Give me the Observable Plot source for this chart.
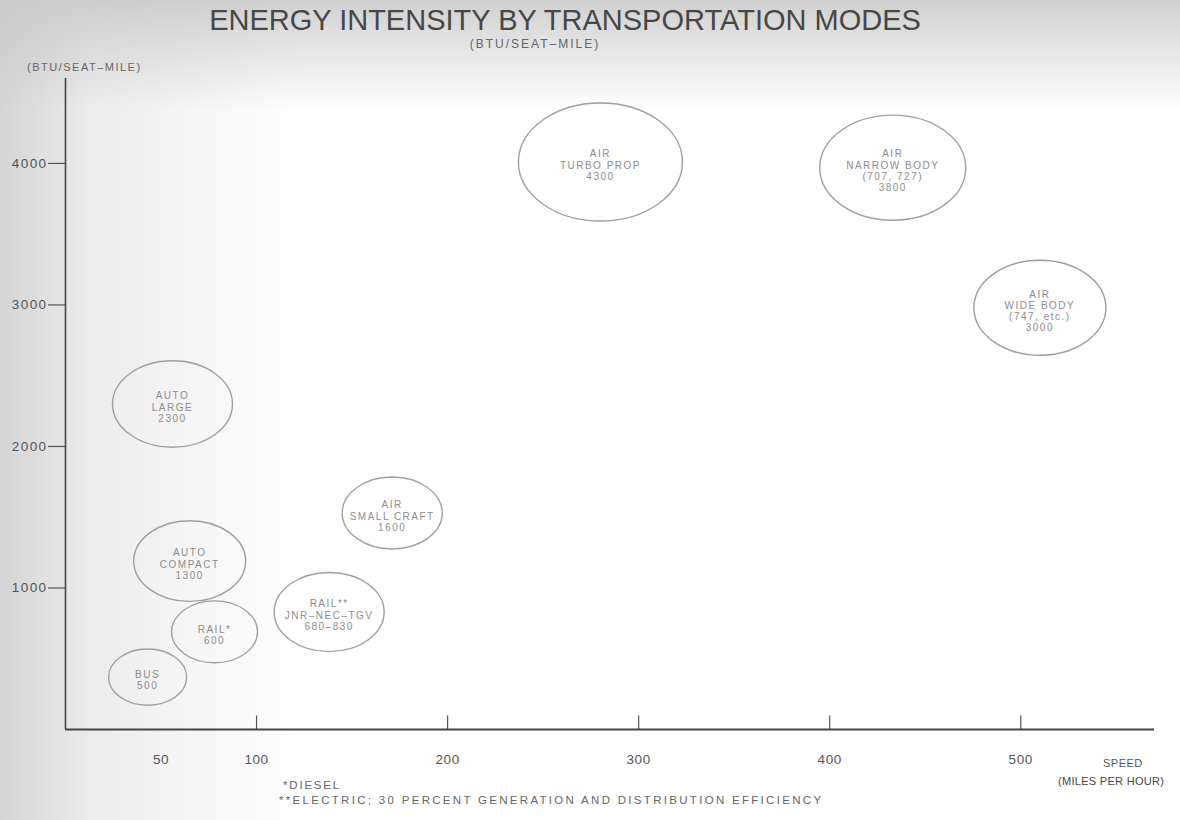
<!DOCTYPE html>
<html>
<head>
<meta charset="utf-8">
<script src="https://cdn.jsdelivr.net/npm/d3@7"></script>
<script src="https://cdn.jsdelivr.net/npm/@observablehq/plot@0.6"></script>
<style>
  html, body { margin: 0; padding: 0; }
  body {
    width: 1180px; height: 820px; overflow: hidden;
    font-family: "Liberation Sans", Arial, sans-serif;
    background:
      linear-gradient(to bottom, rgba(200,200,200,0.85) 0px, rgba(255,255,255,0) 110px),
      linear-gradient(to right, #d4d4d4 0px, #ececec 90px, #ffffff 300px);
  }
  #wrap { position: relative; width: 1180px; height: 820px; }
  .abs { position: absolute; white-space: nowrap; color: #555; }
  #title { left: 0; width: 1130px; top: 4px; text-align: center; font-size: 29px; color: #474747; }
  #subtitle { left: 0; width: 1070px; top: 37px; text-align: center; font-size: 12px; letter-spacing: 2px; color: #666; }
  #ytitle { left: 27px; top: 61px; font-size: 11px; letter-spacing: 1.5px; color: #666; }
  #speed { left: 1103px; top: 757px; font-size: 11px; letter-spacing: 0.5px; color: #555; }
  #mph { left: 1058px; top: 775px; font-size: 11px; letter-spacing: 0.3px; color: #444; }
  #fn1 { left: 283px; top: 779px; font-size: 11.5px; letter-spacing: 1.8px; color: #666; }
  #fn2 { left: 279px; top: 794px; font-size: 11.5px; letter-spacing: 2.3px; color: #666; }
  #chart { position: absolute; left: 0; top: 50px; }
  #chart svg .bubble text { letter-spacing: 1.5px; }
  #chart svg g[aria-label="y-axis tick label"] text { letter-spacing: 1.4px; }
  #chart svg g[aria-label="x-axis tick label"] text { letter-spacing: 0.6px; }
</style>
</head>
<body>
<div id="wrap">
  <div class="abs" id="title">ENERGY INTENSITY BY TRANSPORTATION MODES</div>
  <div class="abs" id="subtitle">(BTU/SEAT–MILE)</div>
  <div class="abs" id="ytitle">(BTU/SEAT–MILE)</div>
  <div id="chart"></div>
  <div class="abs" id="speed">SPEED</div>
  <div class="abs" id="mph">(MILES PER HOUR)</div>
  <div class="abs" id="fn1">*DIESEL</div>
  <div class="abs" id="fn2">**ELECTRIC; 30 PERCENT GENERATION AND DISTRIBUTION EFFICIENCY</div>
</div>
<script>
// ---- data ----
const modes = ["AIR TURBO PROP", "AIR NARROW BODY", "AIR WIDE BODY", "AUTO LARGE", "AIR SMALL CRAFT",
               "AUTO COMPACT", "RAIL**", "RAIL*", "BUS"];
const labels = [
  "AIR\nTURBO PROP\n4300",
  "AIR\nNARROW BODY\n(707, 727)\n3800",
  "AIR\nWIDE BODY\n(747, etc.)\n3000",
  "AUTO\nLARGE\n2300",
  "AIR\nSMALL CRAFT\n1600",
  "AUTO\nCOMPACT\n1300",
  "RAIL**\nJNR–NEC–TGV\n680–830",
  "RAIL*\n600",
  "BUS\n500"
];
const speedMph = [280, 433, 510, 56, 171, 65, 138, 78, 43];
const btuPerSeatMile = [4010, 3970, 2980, 2300, 1530, 1190, 830, 690, 370];
const xTickValues = [50, 100, 200, 300, 400, 500];
const xTickMarks = [100, 200, 300, 400, 500];
const yTickValues = [1000, 2000, 3000, 4000];

// ---- style (bubble half-widths in px, not data) ----
const bubbleHalfWidth = [82, 73, 66, 60, 50, 56, 55, 43, 39];
const ASPECT = 0.72;

const ellipseSymbol = {
  draw(context, size) {
    const rx = Math.sqrt(size / Math.PI), ry = rx * ASPECT, k = 0.5523;
    context.moveTo(rx, 0);
    context.bezierCurveTo(rx, k * ry, k * rx, ry, 0, ry);
    context.bezierCurveTo(-k * rx, ry, -rx, k * ry, -rx, 0);
    context.bezierCurveTo(-rx, -k * ry, -k * rx, -ry, 0, -ry);
    context.bezierCurveTo(k * rx, -ry, rx, -k * ry, rx, 0);
    context.closePath();
  }
};

const data = modes.map((m, i) => ({
  mode: m, label: labels[i], speed: speedMph[i], btu: btuPerSeatMile[i], size: bubbleHalfWidth[i]
}));

const plot = Plot.plot({
  width: 1180,
  height: 720,
  marginLeft: 65,
  marginRight: 26,
  marginTop: 28,
  marginBottom: 41,
  x: { domain: [0, 570] },
  y: { domain: [0, 4600] },
  r: { type: "identity" },
  style: { background: "transparent", fontFamily: "Liberation Sans, Arial, sans-serif", color: "#555" },
  marks: [
    Plot.axisY({ ticks: yTickValues, tickSize: 17, tickPadding: 1, fontSize: 13.5, label: null, tickFormat: d => String(d), stroke: "#555", strokeWidth: 1.2 }),
    Plot.axisX({ ticks: xTickValues, tickSize: 0, tickPadding: 25, fontSize: 13.5, label: null, tickFormat: d => String(d) }),
    Plot.ruleX(xTickMarks, { y1: 0, y2: 95, stroke: "#555", strokeWidth: 1.2 }),
    Plot.ruleX([0], { y1: 0, y2: 4600, stroke: "#444", strokeWidth: 1.6 }),
    Plot.ruleY([0], { x1: 0, x2: 570, stroke: "#444", strokeWidth: 1.8 }),
    Plot.dot(data, { x: "speed", y: "btu", r: "size", symbol: ellipseSymbol, stroke: "#9f9f9f", strokeWidth: 1.4, fill: "none" }),
    Plot.text(data, { x: "speed", y: "btu", text: "label", fontSize: 10, fill: "#8c8c8c", lineHeight: 1.12, dy: 3, className: "bubble" })
  ]
});
document.getElementById("chart").appendChild(plot);
</script>
</body>
</html>
